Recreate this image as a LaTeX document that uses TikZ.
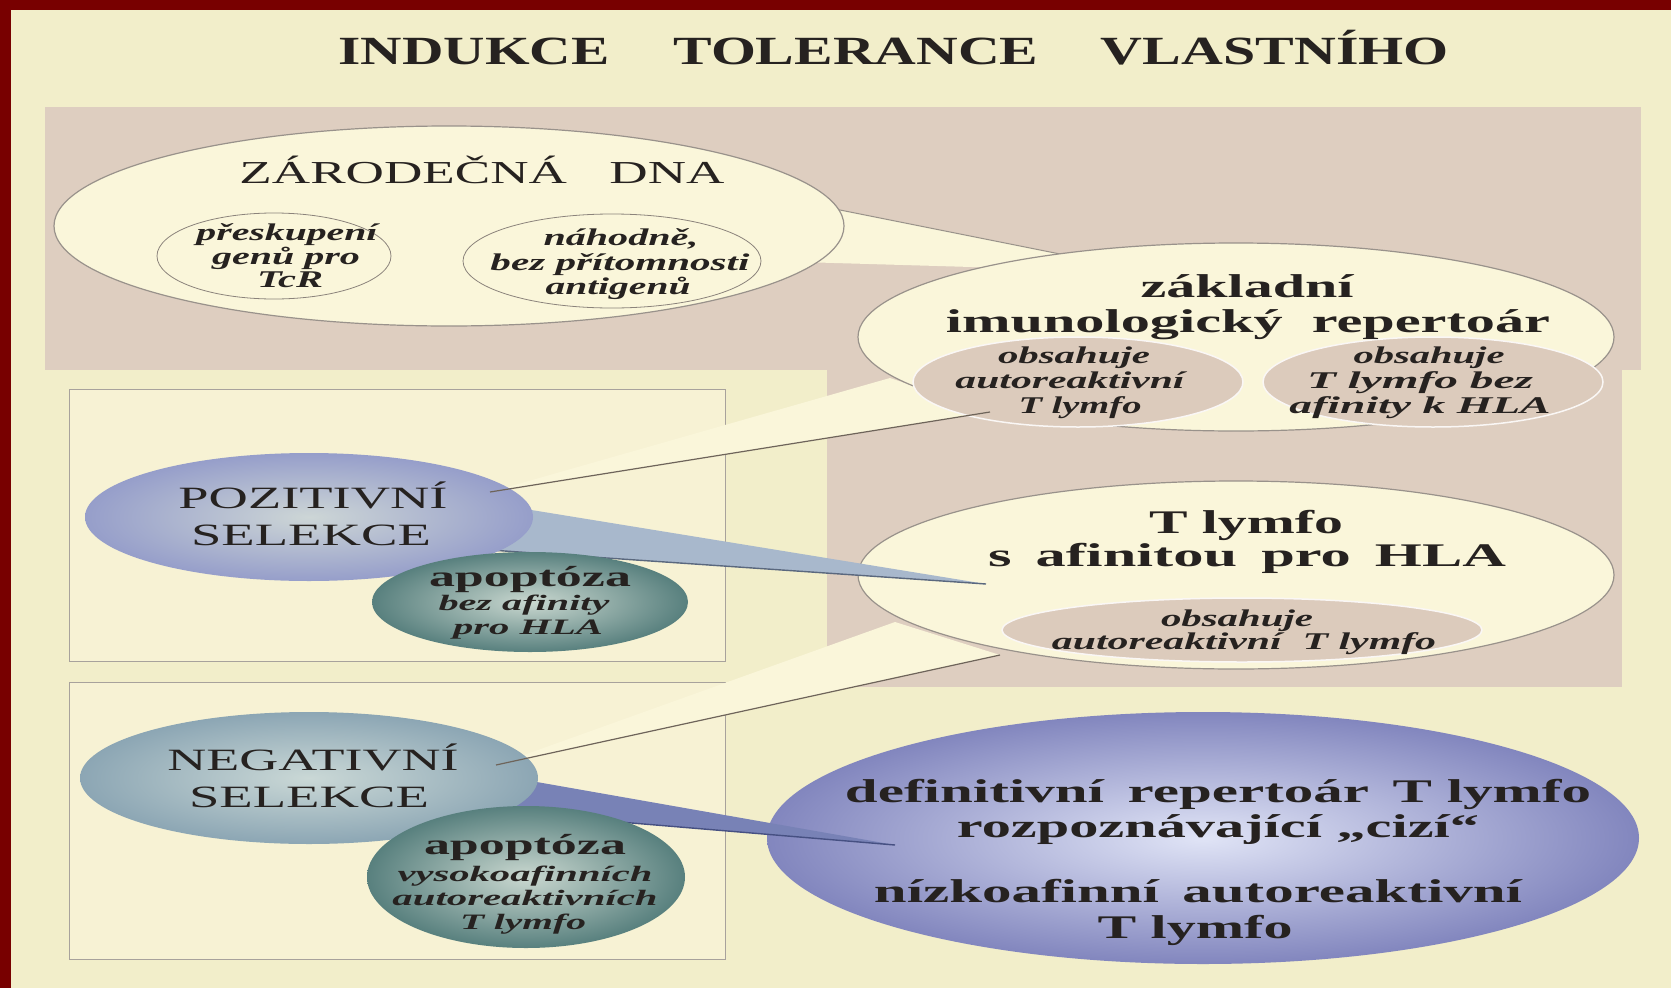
\documentclass[tikz,border=0pt]{standalone}
\usepackage{fontspec}
\setmainfont{Liberation Serif}
\usetikzlibrary{shapes.geometric}
\definecolor{frame}{RGB}{120,0,0}
\definecolor{bg}{RGB}{242,238,202}
\definecolor{pinkbg}{RGB}{222,206,192}
\definecolor{creamell}{RGB}{250,246,218}
\definecolor{pinkell}{RGB}{220,203,188}
\definecolor{boxfill}{RGB}{247,242,212}
\definecolor{txt}{RGB}{38,34,32}
\definecolor{edge}{RGB}{110,100,90}
\definecolor{pozout}{RGB}{150,158,202}
\definecolor{pozin}{RGB}{205,214,214}
\definecolor{negout}{RGB}{140,166,180}
\definecolor{negin}{RGB}{202,216,214}
\definecolor{defout}{RGB}{130,134,190}
\definecolor{defin}{RGB}{224,228,246}
\definecolor{tealout}{RGB}{88,128,126}
\definecolor{tealin}{RGB}{202,216,208}
\definecolor{tailone}{RGB}{168,184,204}
\definecolor{tailoneedge}{RGB}{90,104,126}
\definecolor{tailtwo}{RGB}{120,130,182}
\definecolor{tailtwoedge}{RGB}{70,80,130}
\newcommand\wl[2]{\resizebox{#1pt}{\height}{#2}}
\begin{document}
\begin{tikzpicture}[x=1pt,y=-1pt,
  lbl/.style={text=txt,inner sep=0pt,anchor=center,text depth=0.5pt},
  big/.style={lbl,font=\fontsize{33}{33}\selectfont\bfseries,text height=23pt},
  caps/.style={lbl,font=\fontsize{31}{31}\selectfont,text height=21.5pt},
  small/.style={lbl,font=\fontsize{24}{24}\selectfont\bfseries\itshape,text height=16.5pt},
  smaller/.style={lbl,font=\fontsize{22}{22}\selectfont\bfseries\itshape,text height=15pt},
  apo/.style={lbl,font=\fontsize{29}{29}\selectfont\bfseries,text height=20pt},
  titl/.style={lbl,font=\fontsize{40}{40}\selectfont\bfseries,text height=28pt},
  creamel/.style={ellipse,inner sep=0pt,fill=creamell,draw=edge!70,line width=1.2pt},
  pinkel/.style={ellipse,inner sep=0pt,fill=pinkell,draw=white!85!pinkell,line width=1.5pt},
  innerline/.style={ellipse,inner sep=0pt,draw=edge!80,line width=0.8pt},
  pozel/.style={ellipse,inner sep=0pt,inner color=pozin,outer color=pozout},
  negel/.style={ellipse,inner sep=0pt,inner color=negin,outer color=negout},
  defel/.style={ellipse,inner sep=0pt,inner color=defin,outer color=defout},
  tealel/.style={ellipse,inner sep=0pt,inner color=tealin,outer color=tealout},
  boxst/.style={fill=boxfill,draw=edge!60,line width=0.9pt}
]
\useasboundingbox (0,0) rectangle (1671,988);
\fill[frame] (0,0) rectangle (1671,988);
\fill[bg] (11,10) rectangle (1671,988);
% pink background
\fill[pinkbg] (45,107) rectangle (1641,370);
\fill[pinkbg] (827,369) rectangle (1622,687);
% left boxes
\draw[boxst] (69,389) rectangle (725,661);
\draw[boxst] (69,682) rectangle (725,959);

% title
\node[titl] (ti1) at (474,51) {\wl{271}{INDUKCE}};
\node[titl] (ti2) at (856,51) {\wl{365}{TOLERANCE}};
\node[titl] (ti3) at (1275,51) {\wl{348}{VLASTNÍHO}};

% ---- cream tails (fills)
\coordinate (c1a) at (890,378);
\coordinate (c1b) at (990,412);
\coordinate (c1t) at (490,492);
\fill[creamell] (c1t) -- (c1a) -- (c1b) -- cycle;
\coordinate (c2a) at (895,622);
\coordinate (c2b) at (1000,655);
\coordinate (c2t) at (496,765);
\fill[creamell] (c2t) -- (c2a) -- (c2b) -- cycle;
% tail from ZARODECNA to zakladni
\coordinate (z1) at (800,202);
\coordinate (z2) at (1075,257);
\coordinate (z3) at (1075,270);
\coordinate (z4) at (800,262);
\fill[creamell] (z1) -- (z2) -- (z3) -- (z4) -- cycle;
\draw[edge!70,line width=1pt] (z1) -- (z2);

% ---- ZARODECNA DNA
\node[creamel,minimum width=790pt,minimum height=200pt] (zar) at (449,226) {};
\node[innerline,minimum width=234pt,minimum height=86pt] (zi1) at (274,256) {};
\node[innerline,minimum width=298pt,minimum height=94pt] (zi2) at (612,261) {};
\node[caps,font=\fontsize{32}{32}\selectfont,text height=22pt] (zt) at (482,173) {\wl{485}{ZÁRODEČNÁ\hspace{0.8em}DNA}};
\node[small] (z1a) at (287,232) {\wl{181}{přeskupení}};
\node[small] (z1b) at (286,256) {\wl{148}{genů pro}};
\node[small] (z1c) at (290,279) {\wl{66}{TcR}};
\node[small] (z2a) at (621,237) {\wl{155}{náhodně,}};
\node[small] (z2b) at (620,262) {\wl{259}{bez přítomnosti}};
\node[small] (z2c) at (618,286) {\wl{145}{antigenů}};

% ---- zakladni repertoar
\node[creamel,minimum width=756pt,minimum height=188pt] (zak) at (1236,337) {};
\node[pinkel,minimum width=330pt,minimum height=90pt] (zp1) at (1078,382) {};
\node[pinkel,minimum width=340pt,minimum height=90pt] (zp2) at (1433,382) {};
\node[big] (k1) at (1247,286) {\wl{213}{základní}};
\node[big] (k2) at (1248,321) {\wl{604}{imunologický\hspace{0.5em}repertoár}};
\node[small] (p1a) at (1074,355) {\wl{152}{obsahuje}};
\node[small] (p1b) at (1070,380) {\wl{229}{autoreaktivní}};
\node[small] (p1c) at (1080,405) {\wl{123}{T lymfo}};
\node[small] (p2a) at (1429,355) {\wl{151}{obsahuje}};
\node[small] (p2b) at (1420,380) {\wl{226}{T lymfo bez}};
\node[small] (p2c) at (1420,405) {\wl{261}{afinity k HLA}};

% ---- T lymfo s afinitou
\node[creamel,minimum width=756pt,minimum height=188pt] (tly) at (1236,575) {};
\node[pinkel,minimum width=480pt,minimum height=64pt] (tp) at (1242,630) {};
\node[big] (l1) at (1246,522) {\wl{194}{T lymfo}};
\node[big] (l2) at (1247,555) {\wl{518}{s\hspace{0.4em}afinitou\hspace{0.4em}pro\hspace{0.4em}HLA}};
\node[small] (q1) at (1237,618) {\wl{152}{obsahuje}};
\node[small] (q2) at (1244,641) {\wl{384}{autoreaktivní\hspace{0.5em}T lymfo}};

% ---- definitivni repertoar
\node[defel,minimum width=872pt,minimum height=252pt] (def) at (1203,838) {};
\node[big] (d1) at (1218,791) {\wl{746}{definitivní\hspace{0.4em}repertoár\hspace{0.4em}T lymfo}};
\node[big] (d2) at (1218,826) {\wl{522}{rozpoznávající „cizí“}};
\node[big] (d3) at (1198,891) {\wl{648}{nízkoafinní\hspace{0.4em}autoreaktivní}};
\node[big] (d4) at (1195,927) {\wl{195}{T lymfo}};

% ---- blue tails (drawn under the left ellipses)
\coordinate (b1t) at (986,584);
\coordinate (b1a) at (470,500);
\coordinate (b1b) at (490,550);
\fill[tailone] (b1a) -- (b1t) -- (b1b) -- cycle;
\draw[tailoneedge,line width=1.4pt] (b1b) -- (b1t);
\coordinate (b2t) at (895,845);
\coordinate (b2a) at (480,772);
\coordinate (b2b) at (500,812);
\fill[tailtwo] (b2a) -- (b2t) -- (b2b) -- cycle;
\draw[tailtwoedge,line width=1.4pt] (b2b) -- (b2t);

% ---- left selection ellipses
\node[pozel,minimum width=448pt,minimum height=128pt] (poz) at (309,517) {};
\node[negel,minimum width=458pt,minimum height=132pt] (neg) at (309,778) {};

% ---- cream tail edges
\draw[edge,line width=1.2pt] (c1t) -- (c1b);
\draw[edge,line width=1.2pt] (c2t) -- (c2b);

% ---- selection texts
\node[caps] (pz1) at (313,498) {\wl{269}{POZITIVNÍ}};
\node[caps] (pz2) at (311,535) {\wl{240}{SELEKCE}};
\node[caps] (ng1) at (313,760) {\wl{291}{NEGATIVNÍ}};
\node[caps] (ng2) at (309,797) {\wl{240}{SELEKCE}};

% ---- apoptoza ellipses
\node[tealel,minimum width=316pt,minimum height=100pt] (ap1) at (530,602) {};
\node[apo] (a1a) at (530,577) {\wl{202}{apoptóza}};
\node[smaller] (a1b) at (524,603) {\wl{171}{bez afinity}};
\node[smaller] (a1c) at (528,627) {\wl{150}{pro HLA}};
\node[tealel,minimum width=318pt,minimum height=142pt] (ap2) at (526,877) {};
\node[apo] (a2a) at (525,845) {\wl{202}{apoptóza}};
\node[smaller] (a2b) at (525,874) {\wl{255}{vysokoafinních}};
\node[smaller] (a2c) at (525,898) {\wl{265}{autoreaktivních}};
\node[smaller] (a2d) at (523,922) {\wl{126}{T lymfo}};
\end{tikzpicture}
\end{document}
